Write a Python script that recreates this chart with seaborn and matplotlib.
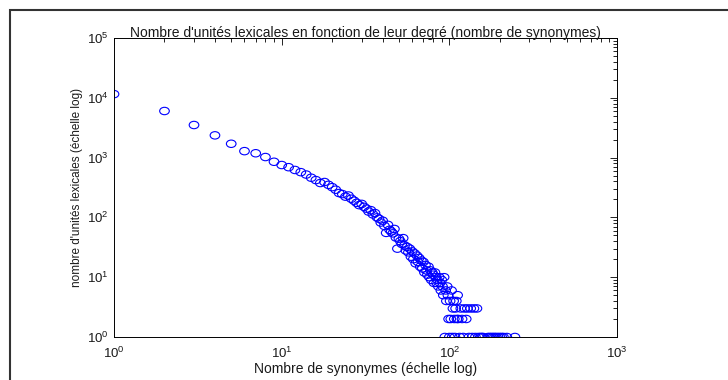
import pandas as pd
import seaborn as sns
import matplotlib.pyplot as plt
from matplotlib.patches import Rectangle
from matplotlib.path import Path
from matplotlib.transforms import Affine2D

# degree (number of synonyms) and number of lexical units with that degree
degree_main = list(range(1, 86))
count_main = [
    11500, 6000, 3500, 2350, 1700, 1280, 1180, 1020, 850, 750,
    690, 620, 570, 520, 460, 420, 375, 390, 350, 320,
    290, 255, 245, 222, 232, 205, 190, 175, 160, 168,
    150, 140, 125, 132, 112, 118, 100, 95, 82, 88,
    72, 55, 75, 62, 58, 54, 64, 46, 30, 44,
    40, 36, 45, 34, 28, 32, 26, 30, 22, 27,
    20, 25, 17, 23, 18, 21, 15, 19, 14, 18,
    12, 16, 13, 11, 15, 10, 13, 9, 12, 11,
    8, 12, 10, 8, 9,
]
degree_tail = [
    86, 87, 88, 89, 90, 91, 92, 93, 94, 95, 96, 97, 98, 99, 100,
    101, 102, 103, 104, 105, 106, 107, 108, 109, 110, 111, 112, 113,
    115, 117, 119, 121, 123, 126, 128, 131, 134, 137, 140, 143, 146,
    149, 153, 156, 159, 170, 174, 178, 182, 186, 190, 195, 200, 205,
    210, 220, 246,
]
count_tail = [
    7, 10, 8, 6, 9, 7, 5, 10, 1, 6, 4, 7, 5, 2, 1,
    4, 2, 6, 1, 3, 4, 2, 1, 3, 4, 2, 5, 2,
    1, 3, 2, 1, 3, 2, 3, 1, 3, 1, 3, 1, 3,
    1, 1, 1, 1, 1, 1, 1, 1, 1, 1, 1, 1, 1,
    1, 1, 1,
]

df = pd.DataFrame({
    "degree": degree_main + degree_tail,
    "count": count_main + count_tail,
})

sns.set_style("white")
plt.rcParams["font.family"] = ["Liberation Sans", "DejaVu Sans"]
plt.rcParams["mathtext.fontset"] = "custom"
plt.rcParams["mathtext.rm"] = "Liberation Sans"
plt.rcParams["text.color"] = "#1a1a1a"
plt.rcParams["axes.labelcolor"] = "#1a1a1a"

fig = plt.figure(figsize=(7.28, 3.8), dpi=100)
ax = fig.add_axes([0.1566, 0.1132, 0.691, 0.787])

# slightly wide open ellipse, like the stretched screenshot
ellipse = Path.unit_circle().transformed(Affine2D().scale(1.3, 1.0))

sns.scatterplot(
    data=df,
    x="degree",
    y="count",
    marker=ellipse,
    s=48,
    facecolor="none",
    edgecolor="#0000ff",
    linewidth=0.8,
    ax=ax,
)

ax.set_xscale("log")
ax.set_yscale("log")
ax.set_xlim(1, 1000)
ax.set_ylim(1, 100000)

ax.tick_params(which="both", direction="in", top=True, right=True,
               labelsize=9.5, colors="black", labelcolor="#1a1a1a", width=0.6)
ax.tick_params(which="major", length=5)
ax.tick_params(which="minor", length=3)
ax.tick_params(axis="x", which="major", pad=6)
ax.tick_params(axis="y", which="major", pad=4)
for s in ax.spines.values():
    s.set_color("black")
    s.set_linewidth(0.7)

ax.set_title("Nombre d'unités lexicales en fonction de leur degré (nombre de synonymes)",
             fontsize=10, pad=1)
ax.set_xlabel("Nombre de synonymes (échelle log)", fontsize=10, labelpad=1)
ax.set_ylabel("nombre d'unités lexicales (échelle log)", fontsize=8.5, labelpad=3)

# outer frame of the exported window
fig.patches.append(Rectangle((10 / 728, -0.1), 1.2, 1 - 10 / 380 + 0.1,
                             transform=fig.transFigure, fill=False,
                             edgecolor="#333333", linewidth=1.5))

plt.savefig("out.png", dpi=100)
